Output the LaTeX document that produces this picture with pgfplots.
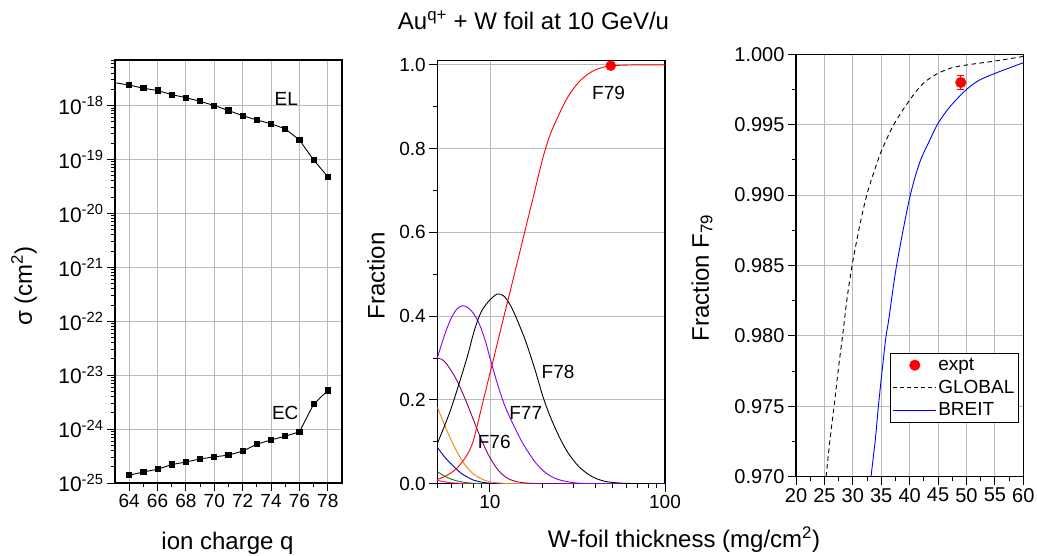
\documentclass[border=0pt]{standalone}
\usepackage{fontspec}
\setmainfont{Liberation Sans}
\usepackage{pgfplots}
\pgfplotsset{compat=1.18}

\definecolor{cF77}{RGB}{128,0,255}
\definecolor{cF76}{RGB}{128,0,128}
\definecolor{cF75}{RGB}{255,128,0}
\definecolor{cF74}{RGB}{0,0,160}
\definecolor{cF73}{RGB}{0,128,0}
\definecolor{cF72}{RGB}{255,0,128}

\newcommand\tickfont{\fontsize{19}{21}\selectfont}
\newcommand\labfont{\fontsize{24}{27}\selectfont}

\pgfplotsset{
  panel/.style={
    scale only axis,
    anchor=south west,
    axis line style={line width=1.4pt},
    tick align=outside,
    xtick pos=left, ytick pos=left,
    major tick length=8pt,
    minor tick length=4pt,
    every tick/.style={black, line width=1pt},
    grid style={gray!55, line width=0.9pt},
    tick label style={font=\tickfont},
    /pgf/number format/assume math mode=true,
  },
  dotlegend/.style={legend image code/.code={\draw[##1] plot coordinates {(22pt,0pt)};}},
  globlegend/.style={legend image code/.code={\draw[##1, draw=black, line width=0.9pt, dash pattern=on 4pt off 3pt] (0pt,0pt) -- (43pt,0pt);}},
  breitlegend/.style={legend image code/.code={\draw[##1, draw=blue, line width=0.9pt, solid] (0pt,0pt) -- (43pt,0pt);}},
}

\begin{document}
\begin{tikzpicture}[x=1pt,y=1pt]
\useasboundingbox (0,0) rectangle (1037,556);

% ---------------- left panel ----------------
\begin{axis}[panel, at={(115pt,73pt)}, width=227pt, height=423pt,
  xmin=63, xmax=79, ymode=log, ymin=1e-25, ymax=7e-18,
  xtick={64,66,...,78}, minor x tick num=1,
  ytick={1e-25,1e-24,1e-23,1e-22,1e-21,1e-20,1e-19,1e-18},
  minor ytick={2e-25,3e-25,4e-25,5e-25,6e-25,7e-25,8e-25,9e-25,
               2e-24,3e-24,4e-24,5e-24,6e-24,7e-24,8e-24,9e-24,
               2e-23,3e-23,4e-23,5e-23,6e-23,7e-23,8e-23,9e-23,
               2e-22,3e-22,4e-22,5e-22,6e-22,7e-22,8e-22,9e-22,
               2e-21,3e-21,4e-21,5e-21,6e-21,7e-21,8e-21,9e-21,
               2e-20,3e-20,4e-20,5e-20,6e-20,7e-20,8e-20,9e-20,
               2e-19,3e-19,4e-19,5e-19,6e-19,7e-19,8e-19,9e-19,
               2e-18,3e-18,4e-18,5e-18,6e-18,7e-18},
  yticklabels={10\textsuperscript{-25},10\textsuperscript{-24},10\textsuperscript{-23},10\textsuperscript{-22},10\textsuperscript{-21},10\textsuperscript{-20},10\textsuperscript{-19},10\textsuperscript{-18}},
  yticklabel style={font=\fontsize{21}{23}\selectfont},
  grid=major]
\addplot[black, line width=0.9pt, mark=none] coordinates {(63,2.65e-18)(64,2.4e-18)};
\addplot[black, line width=0.9pt, mark=square*, mark size=2.6pt] coordinates {
(64,2.4e-18)(65,2.1e-18)(66,1.9e-18)(67,1.6e-18)(68,1.4e-18)(69,1.2e-18)(70,1.0e-18)
(71,8.1e-19)(72,6.5e-19)(73,5.4e-19)(74,4.6e-19)(75,3.7e-19)(76,2.3e-19)(77,9.8e-20)(78,4.8e-20)};
\addplot[black, line width=0.9pt, mark=square*, mark size=2.6pt] coordinates {
(64,1.4e-25)(65,1.6e-25)(66,1.8e-25)(67,2.2e-25)(68,2.45e-25)(69,2.8e-25)(70,3.05e-25)
(71,3.3e-25)(72,3.9e-25)(73,5.25e-25)(74,6.3e-25)(75,7.4e-25)(76,8.9e-25)(77,2.9e-24)(78,5.2e-24)};
\node[font=\tickfont] at (axis cs:75.07,1.32e-18) {EL};
\node[font=\tickfont] at (axis cs:75.0,2.0e-24) {EC};
\end{axis}

% ---------------- middle panel ----------------
\begin{axis}[panel, at={(437.3pt,72.3pt)}, width=227.7pt, height=423pt,
  xmode=log, xmin=5, xmax=100, ymin=0, ymax=1.01,
  xtick={10,100}, xticklabels={10,100},
  minor xtick={5,6,7,8,9,20,30,40,50,60,70,80,90},
  ytick={0,0.2,0.4,0.6,0.8,1.0}, minor y tick num=1,
  yticklabel style={/pgf/number format/.cd, fixed, fixed zerofill, precision=1},
  grid=major]
\addplot[cF72, line width=0.9pt, smooth] coordinates {(5,0.008)(5.5,0.0045)(6,0.0022)(7,0.0006)(8,0)(100,0)};
\addplot[cF73, line width=0.9pt, smooth] coordinates {(5,0.029)(5.5,0.018)(6,0.011)(6.5,0.0065)(7,0.0037)(8,0.001)(9,0.0002)(10,0)(100,0)};
\addplot[cF74, line width=0.9pt, smooth] coordinates {(5,0.087)(5.5,0.064)(6,0.047)(6.5,0.033)(7,0.022)(7.5,0.015)(8,0.009)(9,0.0035)(10,0.0012)(12,0)(100,0)};
\addplot[cF75, line width=0.9pt, smooth] coordinates {(5,0.183)(5.5,0.14)(6,0.104)(6.5,0.075)(7,0.052)(7.5,0.036)(8,0.024)(9,0.011)(10,0.0045)(12,0.0008)(15,0)(100,0)};
\addplot[cF76, line width=0.9pt, smooth] coordinates {(5,0.30)(5.3,0.297)(5.6,0.288)(6,0.27)(6.5,0.245)(7,0.215)(7.5,0.185)(8,0.155)(8.5,0.127)(9,0.102)(9.5,0.08)(10,0.062)(11,0.035)(12,0.019)(13,0.01)(15,0.003)(18,0.0005)(25,0)(100,0)};
\addplot[cF77, line width=0.9pt, smooth] coordinates {(5,0.30)(5.5,0.355)(6,0.395)(6.5,0.418)(7,0.425)(7.5,0.42)(8,0.408)(8.5,0.39)(9,0.365)(9.5,0.335)(10,0.30)(11,0.24)(12,0.192)(13,0.158)(14,0.13)(15,0.105)(16,0.085)(18,0.053)(20,0.032)(22,0.019)(25,0.009)(30,0.0025)(35,0.0005)(45,0)(100,0)};
\addplot[black, line width=0.9pt, smooth] coordinates {(5,0.096)(5.5,0.138)(6,0.18)(6.5,0.225)(7,0.268)(7.5,0.31)(8,0.355)(8.5,0.39)(9,0.414)(9.5,0.428)(10,0.439)(11,0.453)(12,0.448)(13,0.428)(14,0.40)(15,0.37)(16,0.34)(18,0.275)(20,0.21)(22,0.162)(25,0.11)(28,0.073)(32,0.042)(36,0.024)(40,0.013)(45,0.006)(50,0.003)(60,0.0008)(80,0)(100,0)};
\addplot[red, line width=0.9pt, smooth] coordinates {(5,0.010)(5.5,0.017)(6,0.026)(6.5,0.038)(7,0.054)(7.5,0.073)(8,0.100)(8.5,0.143)(9,0.186)(9.5,0.226)(10,0.264)(11,0.334)(12,0.399)(13,0.457)(14,0.512)(15,0.563)(16,0.611)(18,0.698)(20,0.776)(22,0.832)(25,0.885)(28,0.925)(32,0.958)(36,0.977)(40,0.988)(45,0.995)(50,0.998)(60,0.9995)(70,1.0)(100,1.0)};
\addplot[red, only marks, mark=*, mark size=5pt] coordinates {(49,0.998)};
\node[font=\tickfont] at (axis cs:47.6,0.932) {F79};
\node[font=\tickfont] at (axis cs:24.5,0.2675) {F78};
\node[font=\tickfont] at (axis cs:16.0,0.1696) {F77};
\node[font=\tickfont] at (axis cs:10.57,0.1003) {F76};
\end{axis}

% ---------------- right panel ----------------
\begin{axis}[panel, at={(796pt,79.3pt)}, width=227.3pt, height=422.4pt,
  xmin=20, xmax=60, ymin=0.970, ymax=1.000,
  xtick={20,25,...,60}, minor x tick num=1,
  ytick={0.970,0.975,0.980,0.985,0.990,0.995,1.000}, minor y tick num=1,
  yticklabel style={/pgf/number format/.cd, fixed, fixed zerofill, precision=3},
  tick label style={font=\fontsize{20}{22}\selectfont},
  grid=major,
  legend style={at={(0.979,0.128)}, anchor=south east, font=\tickfont,
    inner xsep=2pt, inner ysep=3pt, row sep=4pt, cells={anchor=west}}]
\addlegendimage{red, only marks, mark=*, mark size=5.3pt, dotlegend}
\addlegendentry{expt}
\addlegendimage{black, dashed, globlegend}
\addlegendentry{GLOBAL}
\addlegendimage{blue, breitlegend}
\addlegendentry{BREIT}
\addplot[black, forget plot, line width=0.9pt, dash pattern=on 4.5pt off 3.5pt, smooth] coordinates {
(25.3,0.970)(26,0.9727)(26.7,0.975)(27.5,0.9778)(28.2,0.980)(29,0.9827)(30,0.9853)(31.3,0.9880)(32.45,0.990)(33.6,0.9915)(35,0.9931)(37.2,0.9950)(40,0.99675)(42.4,0.99794)(45,0.99865)(47.5,0.99905)(50,0.99924)(55.3,0.99954)(60,0.99985)};
\addplot[blue, forget plot, line width=0.9pt, smooth] coordinates {
(33.2,0.970)(34,0.9728)(34.5,0.975)(35.2,0.9777)(35.85,0.980)(36.3,0.9811)(37.7,0.985)(40,0.9898)(41.8,0.99235)(43.6,0.99395)(45,0.9951)(47.1,0.99628)(50,0.9975)(52.3,0.99817)(55.3,0.99869)(60,0.99940)};
\addplot[red, forget plot, only marks, mark=none, error bars/.cd, y dir=both, y explicit,
  error bar style={red, line width=0.9pt}, error mark options={red, rotate=90, mark size=3.5pt, line width=0.9pt}]
  coordinates {(49,0.998) +- (0,0.0005)};
\addplot[red, forget plot, only marks, mark=*, mark size=5.3pt] coordinates {(49,0.998)};
\end{axis}

% ---------------- labels ----------------
\node[font=\labfont, anchor=base] at (533.5,526) {Au\textsuperscript{q+} + W foil at 10 GeV/u};
\node[font=\labfont, anchor=base] at (227.5,6) {ion charge q};
\node[font=\labfont, anchor=base] at (684,8) {W-foil thickness (mg/cm\textsuperscript{2})};
\node[font=\labfont, rotate=90] at (24,270) {σ (cm\textsuperscript{2})};
\node[font=\labfont, rotate=90] at (376,280) {Fraction};
\node[font=\labfont, rotate=90] at (702,278) {Fraction F\textsubscript{79}};
\end{tikzpicture}
\end{document}
